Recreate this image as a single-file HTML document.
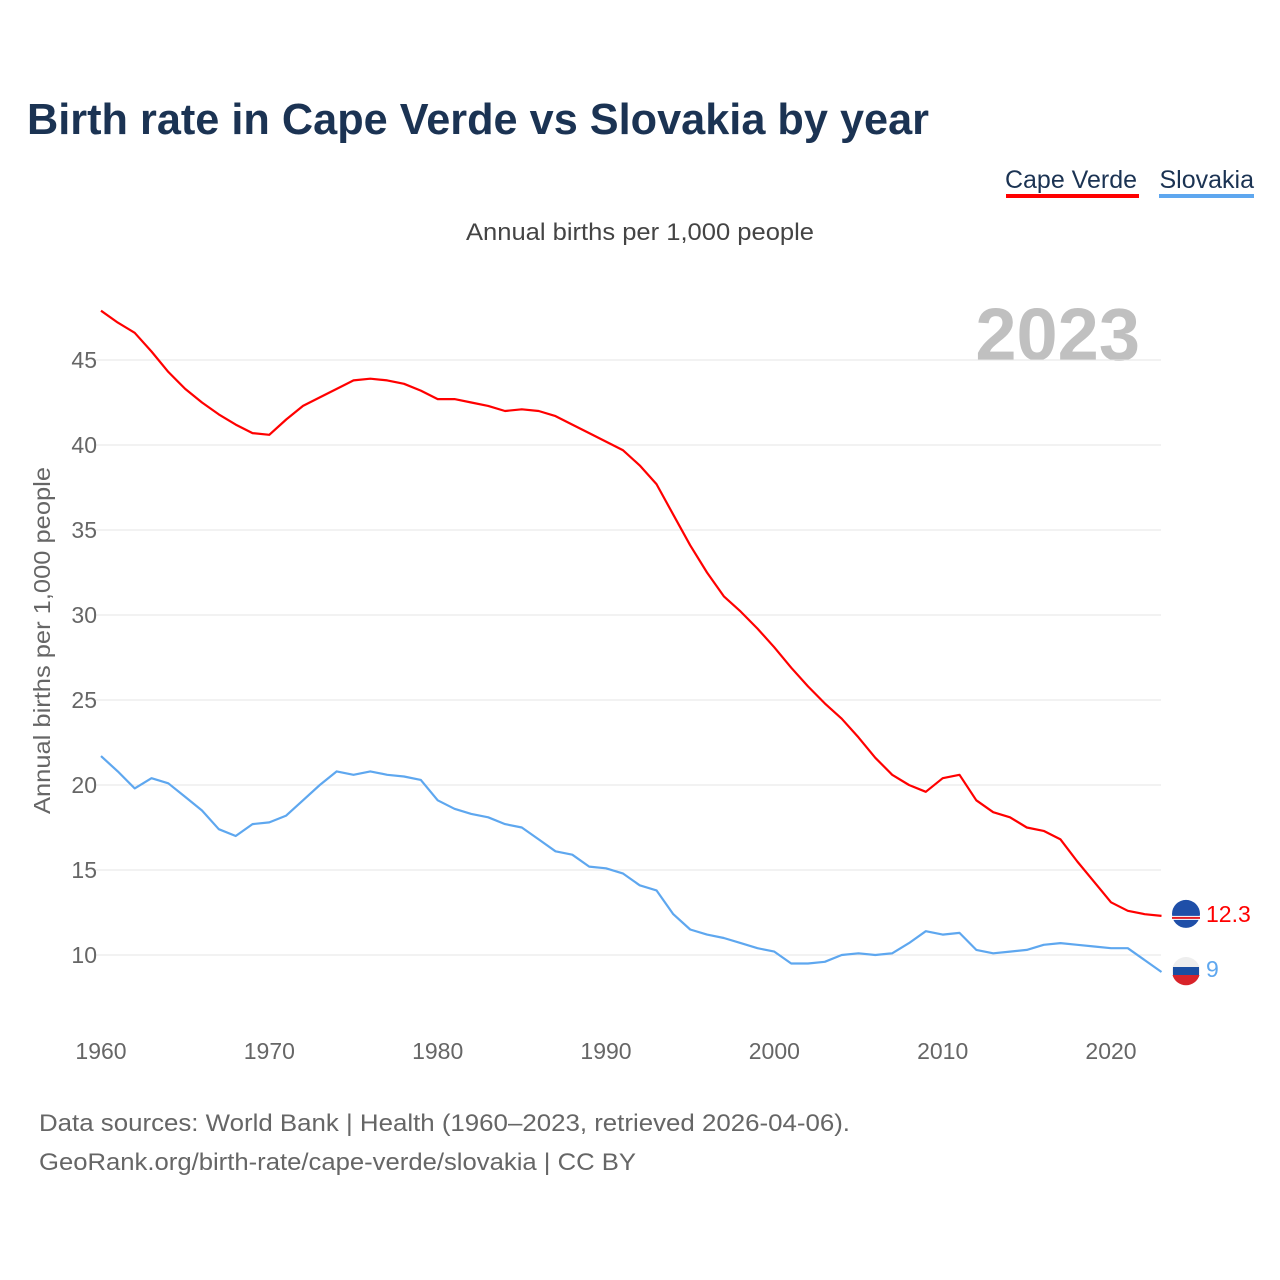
<!DOCTYPE html>
<html><head><meta charset="utf-8"><style>
body{margin:0;background:#fff;font-family:"Liberation Sans",sans-serif;}
#wrap{position:relative;width:1280px;height:1280px;overflow:hidden;}
</style></head><body>
<div id="wrap">
<svg id="chart" width="1280" height="1280"></svg>
</div>
<script>
const years=[];for(let y=1960;y<=2023;y++)years.push(y);
const capeVerde=[47.9,47.2,46.6,45.5,44.3,43.3,42.5,41.8,41.2,40.7,40.6,41.5,42.3,42.8,43.3,43.8,43.9,43.8,43.6,43.2,42.7,42.7,42.5,42.3,42.0,42.1,42.0,41.7,41.2,40.7,40.2,39.7,38.8,37.7,35.9,34.1,32.5,31.1,30.2,29.2,28.1,26.9,25.8,24.8,23.9,22.8,21.6,20.6,20.0,19.6,20.4,20.6,19.1,18.4,18.1,17.5,17.3,16.8,15.5,14.3,13.1,12.6,12.4,12.3];
const slovakia=[21.7,20.8,19.8,20.4,20.1,19.3,18.5,17.4,17.0,17.7,17.8,18.2,19.1,20.0,20.8,20.6,20.8,20.6,20.5,20.3,19.1,18.6,18.3,18.1,17.7,17.5,16.8,16.1,15.9,15.2,15.1,14.8,14.1,13.8,12.4,11.5,11.2,11.0,10.7,10.4,10.2,9.5,9.5,9.6,10.0,10.1,10.0,10.1,10.7,11.4,11.2,11.3,10.3,10.1,10.2,10.3,10.6,10.7,10.6,10.5,10.4,10.4,9.7,9.0];
const yTicks=[10,15,20,25,30,35,40,45];
const xTicks=[1960,1970,1980,1990,2000,2010,2020];
const xs=y=>101+(y-1960)*(1010/60);
const ys=v=>360+(45-v)*17;
const NS="http://www.w3.org/2000/svg";
const svg=document.getElementById('chart');
function mk(tag,attrs,text){const e=document.createElementNS(NS,tag);for(const k in attrs)e.setAttribute(k,attrs[k]);if(text!=null)e.textContent=text;svg.appendChild(e);return e;}
let t;
t=mk('text',{x:27,y:134,'font-size':44,'font-weight':'bold',fill:'#1b3353',textLength:902,lengthAdjust:'spacingAndGlyphs'},'Birth rate in Cape Verde vs Slovakia by year');

t=mk('text',{x:1137,y:188,'font-size':25,fill:'#1b3353','text-anchor':'end'},'Cape Verde');

t=mk('rect',{x:1006,y:194,width:133,height:4,fill:'#ff0000'});

t=mk('text',{x:1254,y:188,'font-size':25,fill:'#1b3353','text-anchor':'end'},'Slovakia');

t=mk('rect',{x:1159,y:194,width:95,height:4,fill:'#5ea7ef'});

t=mk('text',{x:466,y:240,'font-size':24,fill:'#444',textLength:348,lengthAdjust:'spacingAndGlyphs'},'Annual births per 1,000 people');

t=mk('text',{x:1140,y:360,'font-size':74,'font-weight':'bold',fill:'#c0c0c0','text-anchor':'end'},'2023');

yTicks.forEach(v=>{
 const g=mk('line',{x1:95,x2:1161,y1:ys(v),y2:ys(v),stroke:'#e6e6e6','stroke-width':1});
 
 const l=mk('text',{x:97,y:ys(v)+8,'font-size':23,fill:'#666','text-anchor':'end'},String(v));
 
});
xTicks.forEach(v=>{
 const l=mk('text',{x:xs(v),y:1059,'font-size':23,fill:'#666','text-anchor':'middle'},String(v));
 
});
t=mk('text',{x:-173,y:0,'font-size':23,fill:'#666',transform:'translate(50,641) rotate(-90)',textLength:347,lengthAdjust:'spacingAndGlyphs'},'Annual births per 1,000 people');

function line(data,color,name){
 const d=data.map((v,i)=>(i?'L':'M')+xs(years[i]).toFixed(1)+','+ys(v).toFixed(1)).join(' ');
 const p=mk('path',{d:d,fill:'none',stroke:color,'stroke-width':2.2,'stroke-linejoin':'round'});
 
}
line(capeVerde,'#ff0000','cape-verde-line');
line(slovakia,'#5ea7ef','slovakia-line');
const lastCV=capeVerde[capeVerde.length-1],lastSK=slovakia[slovakia.length-1];
let c=mk('circle',{cx:1186,cy:ys(lastCV)-2,r:14,fill:'#1f4fa8'});

c=mk('rect',{x:1172,y:ys(lastCV),width:28,height:4,fill:'#fff'});

c=mk('rect',{x:1172,y:ys(lastCV)+1,width:28,height:2,fill:'#e21e26'});

c=mk('circle',{cx:1186,cy:ys(lastSK)-1,r:14,fill:'#eee'});

c=mk('path',{d:`M1172.5,${ys(lastSK)+3} A14,14 0 0 0 1199.5,${ys(lastSK)+3} Z`,fill:'#d8232a'});

c=mk('rect',{x:1173,y:ys(lastSK)-5,width:26,height:8,fill:'#1a4ea1'});

t=mk('text',{x:1206,y:ys(lastCV)+6,'font-size':23,fill:'#ff0000'},String(lastCV));

t=mk('text',{x:1206,y:ys(lastSK)+5,'font-size':23,fill:'#5ea7ef'},String(Math.round(lastSK*10)/10));

t=mk('text',{x:39,y:1131,'font-size':24,fill:'#666',textLength:811,lengthAdjust:'spacingAndGlyphs'},'Data sources: World Bank | Health (1960–2023, retrieved 2026-04-06).');

t=mk('text',{x:39,y:1170,'font-size':24,fill:'#666',textLength:597,lengthAdjust:'spacingAndGlyphs'},'GeoRank.org/birth-rate/cape-verde/slovakia | CC BY');

</script>
</body></html>
